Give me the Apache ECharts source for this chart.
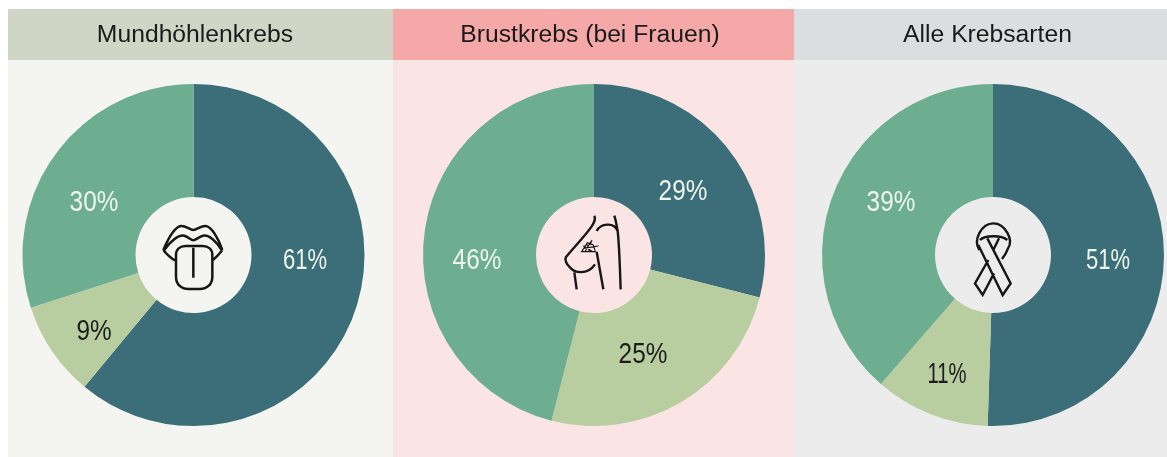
<!DOCTYPE html>
<html>
<head>
<meta charset="utf-8">
<script src="https://cdn.jsdelivr.net/npm/echarts@6/dist/echarts.min.js"></script>
<style>
    html, body { margin: 0; padding: 0; background: #fff; }
    #chart { width: 1167px; height: 457px; }
</style>
</head>
<body>
<div id="chart"></div>
<script>
const titles = ['Mundhöhlenkrebs', 'Brustkrebs (bei Frauen)', 'Alle Krebsarten']
const sliceNames = ['Anteil A', 'Anteil B', 'Anteil C']
const mundValues = [61, 9, 30]
const brustValues = [29, 25, 46]
const alleValues = [51, 11, 39]

const colors = ['#3b6e78', '#b9cea0', '#6eae90']
const labelColors = ['#eef5ea', '#1c1c1c', '#eef5ea']
const font = '"Liberation Sans", Arial, sans-serif'

// panels: x, width, header colour, body colour
const panels = [
    { x: 8, w: 385, head: '#d1d5c6', body: '#f4f5f0', titleX: 195, cx: 193.5 },
    { x: 393, w: 401, head: '#f4a9a8', body: '#fbe4e4', titleX: 590, cx: 594 },
    { x: 794, w: 373, head: '#dcdde0', body: '#ececec', titleX: 987.5, cx: 993 }
]

// label centres on the page, slices in data order
const labelSpots = [
    [[305, 261], [94, 332], [94, 203]],
    [[683, 192], [643, 355], [477, 261]],
    [[1108, 261], [947, 375], [891, 203]]
]
// horizontal squeeze per label, the narrow "1" of the original needs more
const labelSqueeze = [
    [0.76, 0.84, 0.84],
    [0.84, 0.84, 0.84],
    [0.76, 0.7, 0.84]
]

// icons, drawn in 3x crop coordinates, the first two moves fix the bounds
const icons = [
    {
        box: [125, 195, 120, 120],
        width: 2.5,
        d: 'M0 0L0 0M360 360L360 360' +
            'M115 165C130 130 150 95 168 93C182 92 195 105 205 105C215 105 228 92 242 93C260 95 280 130 292 165' +
            'M118 165C135 140 160 118 178 122C190 125 198 136 205 136C212 136 222 125 234 122C252 118 275 140 290 165' +
            'M115 165C125 178 138 190 153 198M292 165C282 178 274 188 262 196' +
            'M153 180C153 163 165 153 182 153L233 153C250 153 262 163 262 180L262 245C262 268 246 282 225 282L190 282C168 282 153 268 153 245Z' +
            'M205 158L205 248'
    },
    {
        box: [530, 195, 130, 120],
        width: 2.4,
        d: 'M0 0L0 0M390 360L390 360' +
            'M193 62C203 82 172 112 108 186C103 194 110 208 118 215C132 234 172 242 195 208' +
            'M133 232L140 283M200 170L220 283' +
            'M200 108C212 85 252 80 263 108C268 150 270 230 272 283M253 62C258 78 260 92 263 108'
    },
    {
        box: [530, 195, 130, 120],
        width: 1.1,
        d: 'M0 0L0 0M390 360L390 360' +
            'M155 170L172 143L190 150L196 170ZM160 160L205 153M165 170L182 140M178 170L170 146M188 170L160 152M186 135L180 150'
    },
    {
        box: [930, 195, 125, 120],
        width: 2.4,
        d: 'M0 0L0 0M375 360L375 360' +
            'M148 165C128 135 155 85 190 85C225 85 252 135 234 160C230 172 224 182 216 192' +
            'M150 135C165 120 215 120 232 135' +
            'M145 150L218 300L242 265L172 130' +
            'M207 130L190 165M175 195L135 265L158 300L192 235'
    }
]

const seriesValues = [mundValues, brustValues, alleValues]

const pieSeries = seriesValues.map((values, i) => ({
    type: 'pie',
    silent: true,
    animation: false,
    startAngle: 90,
    clockwise: true,
    center: [panels[i].cx, 255],
    radius: [58, 171],
    data: values.map((v, j) => ({
        name: sliceNames[j],
        value: v,
        itemStyle: { color: colors[j] }
    })),
    label: { show: false },
    labelLine: { show: false }
}))

// the percent labels are squeezed text, the original uses a narrow face
const labelSeries = {
    type: 'custom',
    coordinateSystem: 'none',
    silent: true,
    animation: false,
    z: 6,
    data: [0, 1, 2],
    renderItem: (params) => ({
        type: 'group',
        children: seriesValues[params.dataIndex].map((v, j) => ({
            type: 'text',
            x: labelSpots[params.dataIndex][j][0],
            y: labelSpots[params.dataIndex][j][1],
            scaleX: labelSqueeze[params.dataIndex][j],
            style: {
                text: v + '%',
                fill: labelColors[j],
                font: '29px ' + font,
                textAlign: 'center',
                textVerticalAlign: 'middle'
            }
        }))
    })
}

const iconSeries = {
    type: 'custom',
    coordinateSystem: 'none',
    silent: true,
    animation: false,
    z: 5,
    data: [0, 1, 2, 3],
    renderItem: (params) => {
        const icon = icons[params.dataIndex]
        return {
            type: 'path',
            shape: {
                pathData: icon.d,
                layout: 'cover',
                x: icon.box[0],
                y: icon.box[1],
                width: icon.box[2],
                height: icon.box[3]
            },
            style: { fill: 'none', stroke: '#161616', lineWidth: icon.width }
        }
    }
}

const graphics = []
panels.forEach((p, i) => {
    graphics.push({ type: 'rect', z: -1, shape: { x: p.x, y: 9, width: p.w, height: 448 }, style: { fill: p.body } })
    graphics.push({ type: 'rect', z: -1, shape: { x: p.x, y: 9, width: p.w, height: 51 }, style: { fill: p.head } })
    graphics.push({
        type: 'text', z: 6, x: p.titleX, y: 35,
        style: {
            text: titles[i], fill: '#1a1a1a',
            font: '24.7px ' + font,
            textAlign: 'center', textVerticalAlign: 'middle'
        }
    })
})

const myChart = echarts.init(document.getElementById('chart'), null, { renderer: 'canvas' })
myChart.setOption({
    animation: false,
    backgroundColor: '#ffffff',
    graphic: { elements: graphics },
    series: [...pieSeries, labelSeries, iconSeries]
})
</script>
</body>
</html>
